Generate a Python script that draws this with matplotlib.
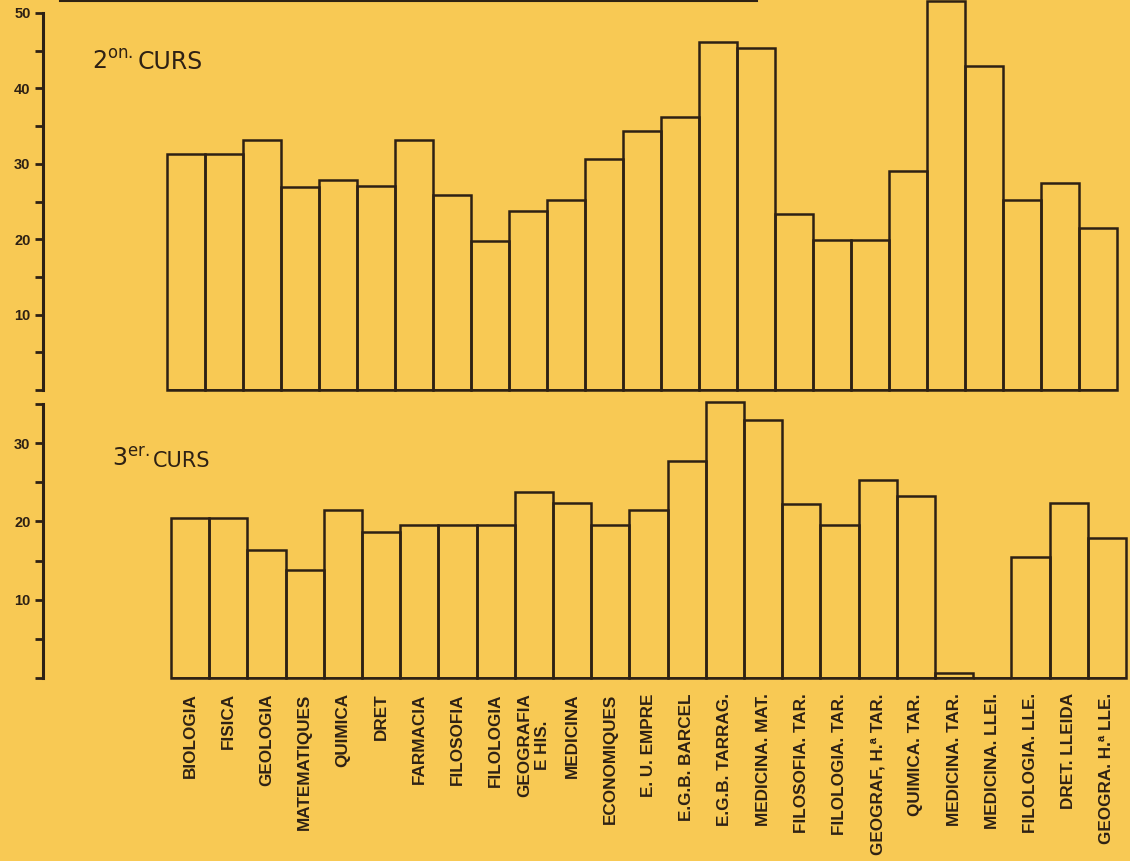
import matplotlib.pyplot as plt
from matplotlib.lines import Line2D

BG = "#f8c954"
INK = "#2e2114"

carreres = [
    "BIOLOGIA", "FISICA", "GEOLOGIA", "MATEMATIQUES", "QUIMICA", "DRET",
    "FARMACIA", "FILOSOFIA", "FILOLOGIA", "GEOGRAFIA\nE HIS.", "MEDICINA",
    "ECONOMIQUES", "E. U. EMPRE", "E.G.B. BARCEL", "E.G.B. TARRAG.",
    "MEDICINA. MAT.", "FILOSOFIA. TAR.", "FILOLOGIA. TAR.",
    "GEOGRAF, H.ª TAR.", "QUIMICA. TAR.", "MEDICINA. TAR.",
    "MEDICINA. LLEI.", "FILOLOGIA. LLE.", "DRET. LLEIDA", "GEOGRA. H.ª LLE.",
]

segon_curs = [31.3, 31.3, 33.1, 26.9, 27.8, 27.0, 33.2, 25.8, 19.7, 23.7,
              25.2, 30.7, 34.4, 36.2, 46.1, 45.3, 23.4, 19.9, 19.9, 29.0,
              51.6, 43.0, 25.2, 27.5, 21.5]

tercer_curs = [20.4, 20.4, 16.4, 13.8, 21.4, 18.6, 19.5, 19.5, 19.5, 23.8,
               22.3, 19.5, 21.4, 27.7, 35.2, 33.0, 22.2, 19.5, 25.3, 23.3,
               0.6, 0.0, 15.5, 22.4, 17.9]

W, H = 1130, 861
fig = plt.figure(figsize=(W / 100, H / 100), dpi=100, facecolor=BG)


def make_axis(top_px, bottom_px, bar_left_px, bar_px, y_max, y_bound, labelled):
    ax = fig.add_axes([43 / W, 1 - bottom_px / H, (W - 43) / W,
                       (bottom_px - top_px) / H])
    ax.set_facecolor("none")
    x_left = (43 - bar_left_px) / bar_px
    ax.set_xlim(x_left, x_left + (W - 43) / bar_px)
    ax.set_ylim(0, y_max)
    for side in ("top", "right", "bottom"):
        ax.spines[side].set_visible(False)
    ax.spines["left"].set_bounds(0, y_bound)
    ax.spines["left"].set_linewidth(2.2)
    ax.spines["left"].set_color(INK)

    majors = list(range(0, y_bound + 1, 10))
    minors = [v for v in range(5, y_bound + 1, 10)]
    ax.set_yticks(majors)
    ax.set_yticklabels([str(v) if v in labelled else "" for v in majors],
                       family=["Liberation Sans Narrow", "Liberation Sans"],
                       fontweight="bold", fontsize=10.5, color=INK)
    ax.set_yticks(minors, minor=True)
    ax.tick_params(axis="y", which="both", length=6, width=2.0, color=INK,
                   pad=3)
    return ax


def draw_bars(ax, values):
    pos = list(range(len(values)))
    ax.bar(pos, values, width=1.0, align="edge", color="none",
           edgecolor=INK, linewidth=1.8, clip_on=False)
    ax.hlines(0, 0, len(values), color=INK, linewidth=2.0)
    return pos


ax1 = make_axis(0, 390, 167, 38.0, 390 / 7.54, 50, [10, 20, 30, 40, 50])
draw_bars(ax1, segon_curs)
ax1.set_xticks([])

ax2 = make_axis(404, 678, 171, 38.2, 35, 35, [10, 20, 30])
pos = draw_bars(ax2, tercer_curs)
ax2.set_xticks([p + 0.5 for p in pos])
ax2.set_xticklabels(carreres, rotation=90, va="top", ha="center",
                    multialignment="center", family="Liberation Sans",
                    fontweight="bold", fontsize=12.3, color=INK)
ax2.tick_params(axis="x", length=0, pad=11)

fig.text(92 / W, 1 - 69 / H, r"2$^{\mathrm{on.}}$", fontsize=17,
         color=INK, ha="left", va="baseline")
fig.text(138 / W, 1 - 69 / H, "CURS", fontsize=17,
         color=INK, ha="left", va="baseline")
fig.text(112 / W, 1 - 467 / H, r"3$^{\mathrm{er.}}$", fontsize=17,
         color=INK, ha="left", va="baseline")
fig.text(153 / W, 1 - 467 / H, "CURS", fontsize=15,
         color=INK, ha="left", va="baseline")

# scan edge left over from the page above
fig.add_artist(Line2D([60 / W, 757 / W], [0.999, 0.999], color=INK,
                      linewidth=1.5, transform=fig.transFigure))

fig.savefig("out.png", dpi=100, facecolor=BG)
